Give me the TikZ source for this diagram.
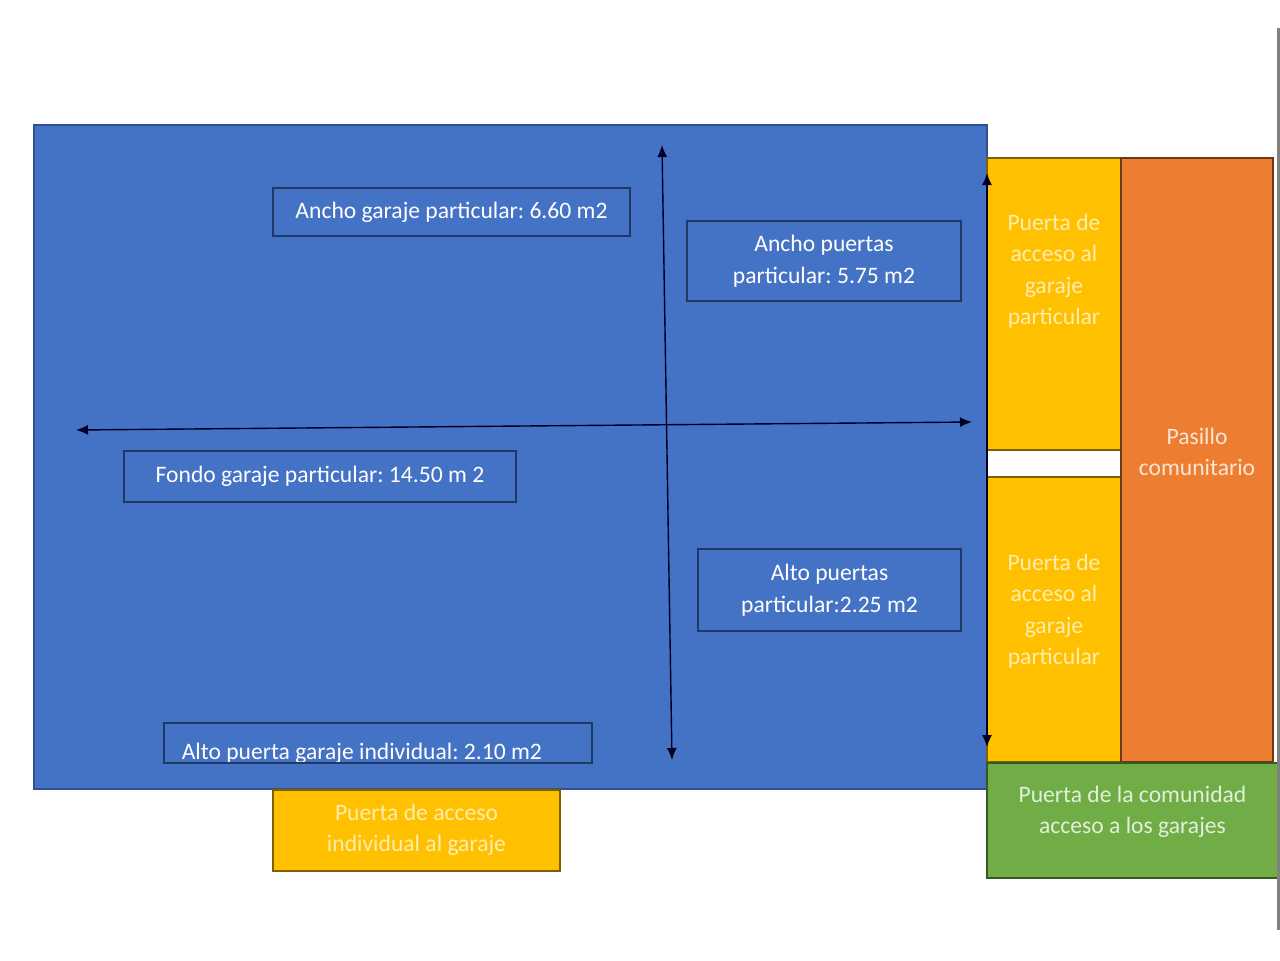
\documentclass[tikz,border=0pt]{standalone}
\usepackage{fontspec}
\setmainfont{Carlito}
\usetikzlibrary{positioning,arrows,arrows.meta}
\definecolor{garajeblue}{HTML}{4472C4}
\definecolor{bordeblue}{HTML}{2F528F}
\definecolor{lineablue}{HTML}{1F3864}
\definecolor{puertayellow}{HTML}{FFC000}
\definecolor{bordeyellow}{HTML}{7F6000}
\definecolor{textoyellow}{HTML}{FFEDB0}
\definecolor{pasillo}{HTML}{ED7D31}
\definecolor{bordepasillo}{HTML}{6E3A16}
\definecolor{textopasillo}{HTML}{FBE5D6}
\definecolor{comunidad}{HTML}{70AD47}
\definecolor{bordecomunidad}{HTML}{385723}
\definecolor{textocomunidad}{HTML}{E2F0D9}
\frenchspacing

\begin{document}
\begin{tikzpicture}[x=0.5pt,y=-0.5pt,
  every node/.style={font=\fontsize{11.8}{15.7}\selectfont, inner sep=0pt},
  zona/.style={draw, line width=1pt, minimum width=#1},
  medida/.style={draw=lineablue, line width=0.8pt, fill=garajeblue, text=white, align=center},
  cota/.style={draw=black!85!blue, line width=0.7pt, {Latex[length=6pt,width=5pt]}-{Latex[length=6pt,width=5pt]}}]
  \useasboundingbox (0,0) rectangle (1280,960);
  \fill[white] (0,0) rectangle (1280,960);

  % plano del garaje
  \node[zona=476.5pt, minimum height=332pt, fill=garajeblue, draw=bordeblue] (garaje) at (510.5,457) {};
  \node[zona=67pt, minimum height=146pt, fill=puertayellow, draw=bordeyellow] (puerta1) at (1054,304) {};
  \node[zona=67pt, minimum height=142.5pt, fill=puertayellow, draw=bordeyellow] (puerta2) at (1054,619.5) {};
  \node[zona=76pt, minimum height=302pt, fill=pasillo, draw=bordepasillo] (pasillo) at (1197,460) {};
  \node[zona=145.5pt, minimum height=57.5pt, fill=comunidad, draw=bordecomunidad] (comunidad) at (1132.5,820.5) {};
  \node[zona=143.5pt, minimum height=40.5pt, fill=puertayellow, draw=bordeyellow] (individual) at (416.5,830.5) {};
  \draw[gray, line width=1.5pt] (1278.5,28) -- (1278.5,930);

  % textos de las zonas
  \node[text=textoyellow, align=center] (t1) at (1054,271) {Puerta de\\acceso al\\garaje\\particular};
  \node[text=textoyellow, align=center] (t2) at (1054,611) {Puerta de\\acceso al\\garaje\\particular};
  \node[text=textopasillo, align=center] (t3) at (1197,452) {Pasillo\\comunitario};
  \node[text=textocomunidad, align=center] (t4) at (1132.5,812) {Puerta de la comunidad\\acceso a los garajes};
  \node[text=textoyellow, align=center] (t5) at (416.5,830) {Puerta de acceso\\individual al garaje};

  % cotas
  \coordinate (vtop) at (662,145);
  \coordinate (vbot) at (672,760);
  \coordinate (hleft) at (76,430);
  \coordinate (hright) at (972,422);
  \coordinate (ptop) at (987,173);
  \coordinate (pbot) at (987,747);
  \draw[cota] (vbot) -- (vtop);
  \draw[cota] (hleft) -- (hright);
  \draw[cota] (pbot) -- (ptop);

  % medidas
  \node[medida, minimum width=178.5pt, minimum height=24pt] (anchogaraje) at (451.5,212) {Ancho garaje particular: 6.60 m2};
  \node[medida, minimum width=137pt, minimum height=40pt] (anchopuertas) at (824,261) {Ancho puertas\\particular: 5.75 m2};
  \node[medida, minimum width=196pt, minimum height=25.5pt] (fondo) at (320,476.5) {Fondo garaje particular: 14.50 m 2};
  \node[medida, minimum width=131.5pt, minimum height=41pt] (altopuertas) at (829.5,590) {Alto puertas\\particular:2.25 m2};
  \node[medida, minimum width=214pt, minimum height=20pt,
    path picture={\node[text=white, anchor=base west, minimum width=0pt, minimum height=0pt] at ([xshift=8.5pt,yshift=2pt]path picture bounding box.south west) {Alto puerta garaje individual: 2.10 m2};}] (altoindividual) at (378,743) {};
\end{tikzpicture}
\end{document}
